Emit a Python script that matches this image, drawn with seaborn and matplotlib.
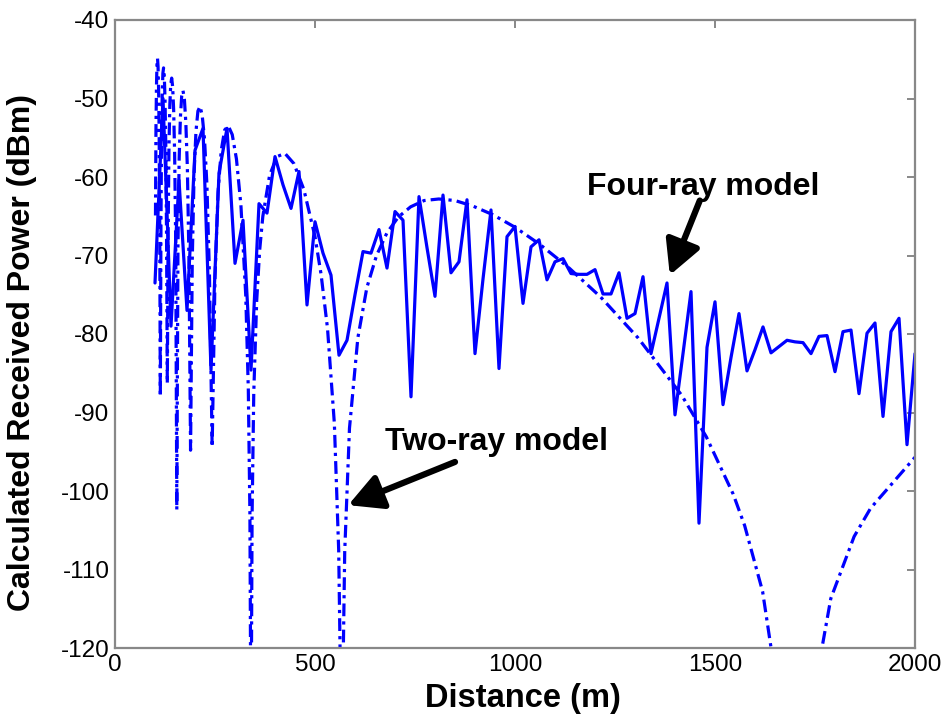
import matplotlib
matplotlib.use("Agg")
import matplotlib.pyplot as plt
import seaborn as sns
import pandas as pd

# ---- Four-ray model (solid) ----
four_ray_distance = [100, 120, 140, 160, 180, 200, 220, 240, 260, 280, 300, 320, 340, 360, 380,
                     400, 420, 440, 460, 480, 500, 520, 540, 560, 580, 600, 620, 640, 660, 680,
                     700, 720, 740, 760, 780, 800, 820, 840, 860, 880, 900, 920, 940, 960, 980,
                     1000, 1020, 1040, 1060, 1080, 1100, 1120, 1140, 1160, 1180, 1200, 1220, 1240,
                     1260, 1280, 1300, 1320, 1340, 1360, 1380, 1400, 1420, 1440, 1460, 1480, 1500,
                     1520, 1540, 1560, 1580, 1600, 1620, 1640, 1660, 1680, 1700, 1720, 1740, 1760,
                     1780, 1800, 1820, 1840, 1860, 1880, 1900, 1920, 1940, 1960, 1980, 2000]
four_ray_power = [-73.5, -50.0, -79.0, -60.4, -77.0, -56.6, -53.8, -84.6, -59.5, -53.8, -71.0, -65.5,
                  -84.6, -63.4, -64.6, -57.4, -61.0, -64.0, -59.3, -76.3, -65.7, -69.7, -72.5, -82.7,
                  -80.8, -75.0, -69.5, -69.7, -66.7, -71.6, -64.4, -65.5, -88.0, -62.5, -69.0, -75.2,
                  -62.3, -72.2, -70.8, -62.9, -82.5, -73.0, -64.2, -84.4, -67.6, -66.3, -76.1, -68.9,
                  -68.0, -73.1, -70.8, -70.4, -72.3, -72.4, -72.4, -71.8, -74.9, -74.9, -72.2, -78.0,
                  -77.4, -72.7, -82.5, -78.0, -73.5, -90.3, -82.5, -74.6, -104.1, -81.7, -75.9, -89.0,
                  -83.0, -77.4, -84.7, -82.0, -79.1, -82.4, -81.6, -80.8, -81.0, -81.1, -82.5, -80.3,
                  -80.2, -84.8, -79.7, -79.5, -87.6, -79.9, -78.6, -90.5, -79.7, -78.0, -94.1, -82.5]

# ---- Two-ray model (dash-dot) ----
two_ray_distance = [101.2, 102.4, 103.7, 104.9, 106.3, 107.6, 109.0, 110.4, 111.8, 113.3, 114.9,
                    116.4, 118.1, 119.7, 121.4, 123.2, 125.0, 126.9, 128.8, 130.8, 132.8, 134.9,
                    137.1, 139.3, 141.7, 144.1, 146.6, 149.1, 151.8, 154.5, 157.4, 160.4, 163.5,
                    166.7, 170.0, 173.5, 177.1, 180.9, 184.8, 188.9, 193.2, 197.7, 202.4, 207.3,
                    212.5, 217.9, 223.7, 229.7, 236.1, 242.9, 250.0, 257.6, 265.6, 274.2, 283.3,
                    293.1, 303.6, 314.8, 326.9, 333.3, 337.3, 340.0, 342.7, 346.9, 354.2, 361.7,
                    369.6, 386.4, 404.8, 425.0, 447.4, 472.2, 500.0, 515.2, 531.3, 548.4, 559.2,
                    566.7, 574.3, 586.2, 607.1, 629.6, 653.8, 680.0, 708.3, 739.1, 772.7, 809.5,
                    850.0, 894.7, 944.4, 1000.0, 1062.5, 1133.3, 1214.3, 1307.7, 1416.7, 1478.3,
                    1545.5, 1574.1, 1619.0, 1666.7, 1700.0, 1734.7, 1789.5, 1847.8, 1888.9, 2000.0]
two_ray_power = [-64.9, -53.9, -48.4, -45.7, -44.9, -45.9, -48.8, -54.5, -65.8, -88.0, -66.0,
                 -55.0, -49.5, -46.8, -46.1, -47.1, -50.0, -55.7, -67.0, -86.3, -67.3, -56.2,
                 -50.8, -48.2, -47.4, -48.5, -51.4, -57.1, -68.4, -102.4, -68.8, -57.7, -52.4,
                 -49.7, -49.0, -50.1, -53.1, -58.8, -70.1, -94.8, -70.5, -59.6, -54.2, -51.6,
                 -51.0, -52.1, -55.1, -60.9, -72.3, -94.4, -72.8, -61.9, -56.6, -54.0, -53.5,
                 -54.6, -57.7, -63.6, -75.1, -87.1, -103.1, -135.0, -103.2, -87.5, -75.8, -69.3,
                 -65.0, -59.8, -57.4, -57.0, -58.3, -61.6, -67.6, -72.4, -79.3, -91.4, -107.5,
                 -135.0, -107.7, -92.0, -80.5, -74.1, -70.0, -67.1, -65.1, -63.8, -63.0, -62.8,
                 -63.0, -63.7, -64.8, -66.4, -68.6, -71.5, -75.3, -80.5, -87.8, -93.1,
                 -100.4, -104.4, -112.8, -129.0, -135.0, -129.3, -113.7, -105.8, -102.2, -95.7]

x_ticks = [0, 500, 1000, 1500, 2000]
y_ticks = [-120, -110, -100, -90, -80, -70, -60, -50, -40]

sns.set_theme(style="white")
plt.rcParams['font.family'] = ['Liberation Sans', 'DejaVu Sans']
plt.rcParams['text.color'] = 'black'
plt.rcParams['axes.labelcolor'] = 'black'

df4 = pd.DataFrame({"Distance": four_ray_distance, "Power": four_ray_power})
df2 = pd.DataFrame({"Distance": two_ray_distance, "Power": two_ray_power})

fig = plt.figure(figsize=(9.49, 7.20), dpi=100)
ax = fig.add_axes([115 / 949, 1 - 648 / 720, 800 / 949, 628 / 720])

sns.lineplot(data=df2, x="Distance", y="Power", ax=ax, color="#0000ff", lw=2.3,
             linestyle=(0, (4, 1.6, 1, 1.6)), errorbar=None, sort=False)
sns.lineplot(data=df4, x="Distance", y="Power", ax=ax, color="#0000ff", lw=2.3,
             linestyle="-", errorbar=None, sort=False)

ax.set_xlim(0, 2000)
ax.set_ylim(-120, -40)
ax.set_xticks(x_ticks)
ax.set_yticks(y_ticks)
ax.set_xticklabels([str(t) for t in x_ticks])
ax.set_yticklabels([str(t) for t in y_ticks])

for s in ax.spines.values():
    s.set_color("#888888")
    s.set_linewidth(1.6)
    s.set_visible(True)
ax.tick_params(direction="in", length=6, width=1.4, color="#888888", labelsize=17.5,
               labelcolor="black", top=True, right=True, pad=4)

ax.set_xlabel("Distance (m)", fontsize=23.5, fontweight="bold", color="black")
ax.set_ylabel("Calculated Received Power (dBm)", fontsize=23, fontweight="bold", color="black")
ax.xaxis.set_label_coords(0.51, -0.055)
ax.yaxis.set_label_coords(-0.097, 0.471)

ax.text(1470, -61.3, "Four-ray model", fontsize=23, fontweight="bold", ha="center",
        va="center", color="black")
ax.annotate("", xy=(1387, -72.5), xytext=(1462, -63.0),
            arrowprops=dict(arrowstyle="-|>,head_length=1.7,head_width=0.9", lw=4.5,
                            color="black", shrinkA=0, shrinkB=0))
ax.text(953, -93.8, "Two-ray model", fontsize=23, fontweight="bold", ha="center",
        va="center", color="black")
ax.annotate("", xy=(583, -101.8), xytext=(850, -96.3),
            arrowprops=dict(arrowstyle="-|>,head_length=1.7,head_width=0.9", lw=4.5,
                            color="black", shrinkA=0, shrinkB=0))

fig.savefig("out.png", dpi=100)
